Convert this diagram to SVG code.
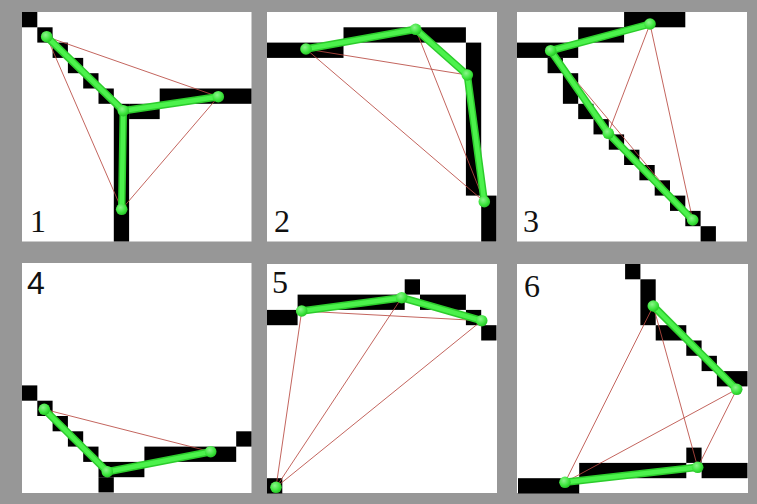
<svg xmlns="http://www.w3.org/2000/svg" width="757" height="504" viewBox="0 0 757 504">
  <defs>
    <radialGradient id="dotFill" cx="0.4" cy="0.35" r="0.7">
      <stop offset="0" stop-color="#8cf58c"/>
      <stop offset="0.6" stop-color="#3ee63e"/>
      <stop offset="1" stop-color="#22bc22"/>
    </radialGradient>
    <style>
      .panel { fill: #ffffff; }
      .px { fill: #000000; }
      .fit { fill: none; stroke-linecap: round; stroke-linejoin: round; }
      .fit-edge { stroke: #2ccc2c; stroke-width: 7.5; }
      .fit-core { stroke: #4cf24c; stroke-width: 4.5; }
      .tie { stroke: #b84a42; stroke-width: 1; stroke-opacity: 0.85; fill: none; }
      .pt { fill: url(#dotFill); }
      .num { font-family: "Liberation Serif", "Times New Roman", serif; font-size: 32px; fill: #111111; }
      .num-sans { font-family: "Liberation Sans", Arial, sans-serif; font-size: 32px; fill: #111111; }
    </style>
  </defs>

  <!-- background -->
  <rect x="0" y="0" width="757" height="504" fill="#979797"/>

  <!-- ===== panel 1 ===== -->
  <g id="panel1">
    <rect class="panel" x="22" y="12" width="229.5" height="229.5"/>
    <g transform="translate(22 12) scale(15.3)">
      <rect class="px" x="0" y="0" width="1" height="1"/>
      <rect class="px" x="1" y="1" width="1" height="1"/>
      <rect class="px" x="2" y="2" width="1" height="1"/>
      <rect class="px" x="3" y="3" width="1" height="1"/>
      <rect class="px" x="4" y="4" width="1" height="1"/>
      <rect class="px" x="5" y="5" width="1" height="1"/>
      <rect class="px" x="6" y="6" width="1" height="9"/>
      <rect class="px" x="7" y="6" width="2" height="1"/>
      <rect class="px" x="9" y="5" width="6" height="1"/>
    </g>
    <g id="connectors1">
      <path class="tie" d="M46.7 36.7 L218.3 96.7 L121.7 209.3 Z"/>
      <path class="fit fit-edge" d="M46.7 36.7 L123.3 110.7 L218.3 96.7 M123.3 110.7 L121.7 209.3"/>
      <path class="fit fit-core" d="M46.7 36.7 L123.3 110.7 L218.3 96.7 M123.3 110.7 L121.7 209.3"/>
    </g>
    <g id="nodes1">
      <circle class="pt" cx="46.7" cy="36.7" r="5.8"/>
      <circle class="pt" cx="123.3" cy="110.7" r="5.8"/>
      <circle class="pt" cx="218.3" cy="96.7" r="5.8"/>
      <circle class="pt" cx="121.7" cy="209.3" r="5.8"/>
    </g>
    <text class="num" x="30" y="232">1</text>
  </g>

  <!-- ===== panel 2 ===== -->
  <g id="panel2">
    <rect class="panel" x="267" y="12" width="230" height="229.5"/>
    <g transform="translate(267 12) scale(15.3)">
      <rect class="px" x="0" y="2" width="5" height="1"/>
      <rect class="px" x="5" y="1" width="8" height="1"/>
      <rect class="px" x="13" y="2" width="1" height="10"/>
      <rect class="px" x="14" y="12" width="1" height="3"/>
    </g>
    <g id="connectors2">
      <path class="tie" d="M306 49 L467.3 75 M306 49 L484.3 201.7 M415.7 29.3 L484.3 201.7"/>
      <path class="fit fit-edge" d="M306 49 L415.7 29.3 L467.3 75 L484.3 201.7"/>
      <path class="fit fit-core" d="M306 49 L415.7 29.3 L467.3 75 L484.3 201.7"/>
    </g>
    <g id="nodes2">
      <circle class="pt" cx="306" cy="49" r="5.8"/>
      <circle class="pt" cx="415.7" cy="29.3" r="5.8"/>
      <circle class="pt" cx="467.3" cy="75" r="5.8"/>
      <circle class="pt" cx="484.3" cy="201.7" r="5.8"/>
    </g>
    <text class="num" x="274" y="232">2</text>
  </g>

  <!-- ===== panel 3 ===== -->
  <g id="panel3">
    <rect class="panel" x="517" y="12" width="230" height="229.5"/>
    <g transform="translate(517 12) scale(15.3)">
      <rect class="px" x="7" y="0" width="4" height="1"/>
      <rect class="px" x="4" y="1" width="3" height="1"/>
      <rect class="px" x="0" y="2" width="4" height="1"/>
      <rect class="px" x="2" y="3" width="1" height="1"/>
      <rect class="px" x="3" y="4" width="1" height="2"/>
      <rect class="px" x="4" y="6" width="1" height="1"/>
      <rect class="px" x="5" y="7" width="1" height="1"/>
      <rect class="px" x="6" y="8" width="1" height="1"/>
      <rect class="px" x="7" y="9" width="1" height="1"/>
      <rect class="px" x="8" y="10" width="1" height="1"/>
      <rect class="px" x="9" y="11" width="1" height="1"/>
      <rect class="px" x="10" y="12" width="1" height="1"/>
      <rect class="px" x="11" y="13" width="1" height="1"/>
      <rect class="px" x="12" y="14" width="1" height="1"/>
    </g>
    <g id="connectors3">
      <path class="tie" d="M550.7 50.7 L692.7 220 M650 24 L608.3 133.3 M650 24 L692.7 220"/>
      <path class="fit fit-edge" d="M650 24 L550.7 50.7 L608.3 133.3 L692.7 220"/>
      <path class="fit fit-core" d="M650 24 L550.7 50.7 L608.3 133.3 L692.7 220"/>
    </g>
    <g id="nodes3">
      <circle class="pt" cx="650" cy="24" r="5.8"/>
      <circle class="pt" cx="550.7" cy="50.7" r="5.8"/>
      <circle class="pt" cx="608.3" cy="133.3" r="5.8"/>
      <circle class="pt" cx="692.7" cy="220" r="5.8"/>
    </g>
    <text class="num" x="523" y="232">3</text>
  </g>

  <!-- ===== panel 4 ===== -->
  <g id="panel4">
    <rect class="panel" x="22" y="263" width="229.5" height="230"/>
    <g transform="translate(22 263) scale(15.3)">
      <rect class="px" x="0" y="8" width="1" height="1"/>
      <rect class="px" x="1" y="9" width="1" height="1"/>
      <rect class="px" x="2" y="10" width="1" height="1"/>
      <rect class="px" x="3" y="11" width="1" height="1"/>
      <rect class="px" x="4" y="12" width="1" height="1"/>
      <rect class="px" x="5" y="13" width="3" height="1"/>
      <rect class="px" x="5" y="14" width="1" height="1"/>
      <rect class="px" x="8" y="12" width="6" height="1"/>
      <rect class="px" x="14" y="11" width="1" height="1"/>
    </g>
    <g id="connectors4">
      <path class="tie" d="M44.3 409.3 L210.7 451.7"/>
      <path class="fit fit-edge" d="M44.3 409.3 L107.3 471.7 L210.7 451.7"/>
      <path class="fit fit-core" d="M44.3 409.3 L107.3 471.7 L210.7 451.7"/>
    </g>
    <g id="nodes4">
      <circle class="pt" cx="44.3" cy="409.3" r="5.8"/>
      <circle class="pt" cx="107.3" cy="471.7" r="5.8"/>
      <circle class="pt" cx="210.7" cy="451.7" r="5.8"/>
    </g>
    <text class="num-sans" x="27" y="294">4</text>
  </g>

  <!-- ===== panel 5 ===== -->
  <g id="panel5">
    <rect class="panel" x="267" y="264" width="230" height="229"/>
    <g transform="translate(267 264) scale(15.3)">
      <rect class="px" x="9" y="1" width="1" height="1"/>
      <rect class="px" x="2" y="2" width="7" height="1"/>
      <rect class="px" x="10" y="2" width="3" height="1"/>
      <rect class="px" x="0" y="3" width="2" height="1"/>
      <rect class="px" x="13" y="3" width="1" height="1"/>
      <rect class="px" x="14" y="4" width="1" height="1"/>
      <rect class="px" x="0" y="14" width="1" height="1"/>
    </g>
    <g id="connectors5">
      <path class="tie" d="M301.7 311 L481.7 320.7 M276 487.3 L301.7 311 M276 487.3 L401.7 297.7 M276 487.3 L481.7 320.7"/>
      <path class="fit fit-edge" d="M301.7 311 L401.7 297.7 L481.7 320.7"/>
      <path class="fit fit-core" d="M301.7 311 L401.7 297.7 L481.7 320.7"/>
    </g>
    <g id="nodes5">
      <circle class="pt" cx="301.7" cy="311" r="5.8"/>
      <circle class="pt" cx="401.7" cy="297.7" r="5.8"/>
      <circle class="pt" cx="481.7" cy="320.7" r="5.8"/>
      <circle class="pt" cx="276" cy="487.3" r="5.8"/>
    </g>
    <text class="num" x="272" y="293">5</text>
  </g>

  <!-- ===== panel 6 ===== -->
  <g id="panel6">
    <rect class="panel" x="517" y="264" width="231" height="229"/>
    <g transform="translate(518 264) scale(15.3)">
      <rect class="px" x="7" y="0" width="1" height="1"/>
      <rect class="px" x="8" y="1" width="1" height="3"/>
      <rect class="px" x="9" y="4" width="2" height="1"/>
      <rect class="px" x="11" y="5" width="1" height="1"/>
      <rect class="px" x="12" y="6" width="1" height="1"/>
      <rect class="px" x="13" y="7" width="2" height="1"/>
      <rect class="px" x="11" y="12" width="1" height="1"/>
      <rect class="px" x="4" y="13" width="7" height="1"/>
      <rect class="px" x="12" y="13" width="3" height="1"/>
      <rect class="px" x="0" y="14" width="4" height="1"/>
    </g>
    <g id="connectors6">
      <path class="tie" d="M653.3 306 L565 482.3 M653.3 306 L697.7 467.3 M736.7 389.3 L565 482.3 M736.7 389.3 L697.7 467.3"/>
      <path class="fit fit-edge" d="M653.3 306 L736.7 389.3 M565 482.3 L697.7 467.3"/>
      <path class="fit fit-core" d="M653.3 306 L736.7 389.3 M565 482.3 L697.7 467.3"/>
    </g>
    <g id="nodes6">
      <circle class="pt" cx="653.3" cy="306" r="5.8"/>
      <circle class="pt" cx="736.7" cy="389.3" r="5.8"/>
      <circle class="pt" cx="565" cy="482.3" r="5.8"/>
      <circle class="pt" cx="697.7" cy="467.3" r="5.8"/>
    </g>
    <text class="num" x="524" y="297">6</text>
  </g>
</svg>
